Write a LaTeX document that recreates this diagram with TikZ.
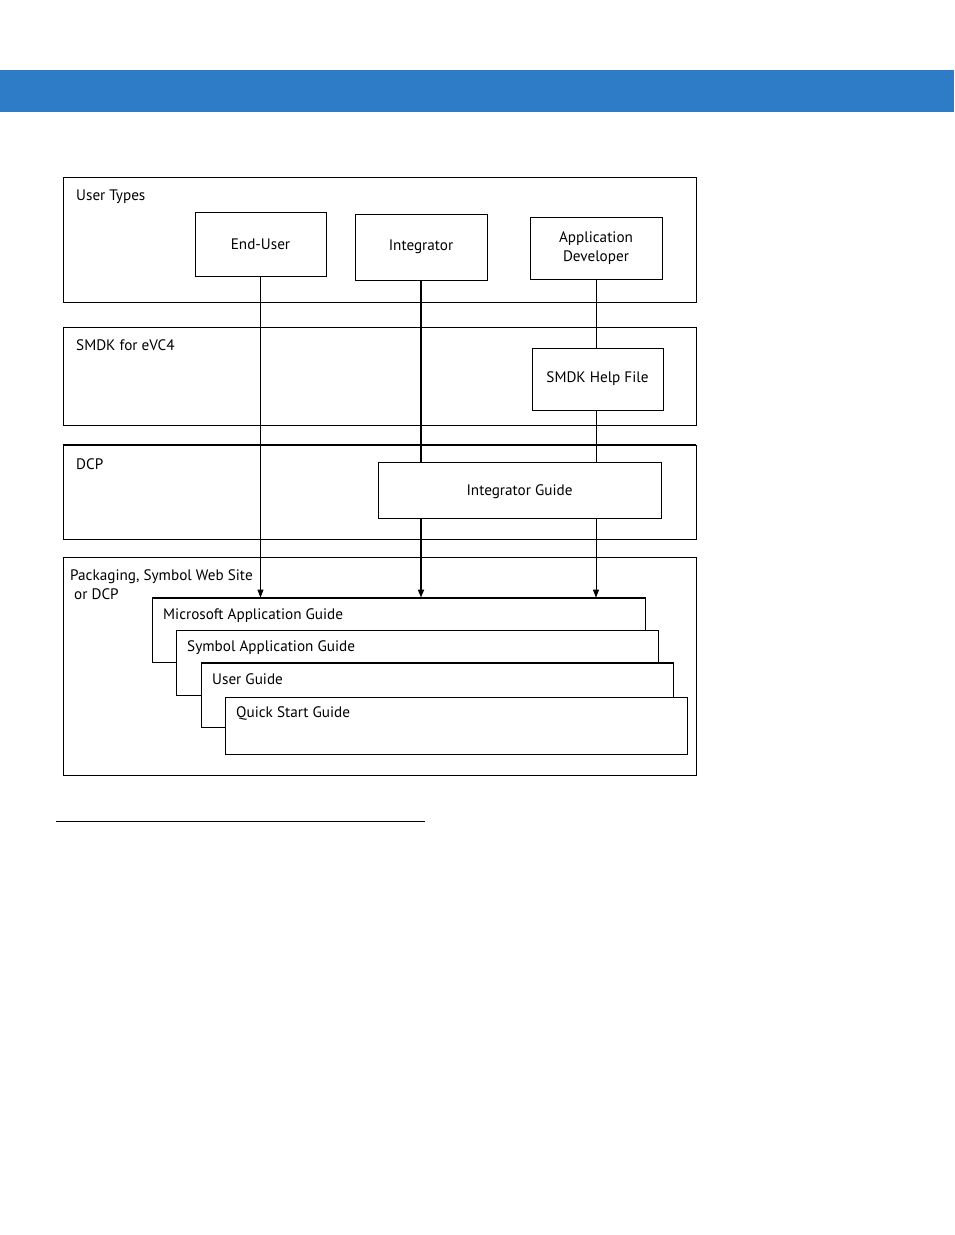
\documentclass[tikz,border=0pt]{standalone}
\usepackage{fontspec}
\setmainfont{PT Sans}
\usetikzlibrary{arrows.meta}
\definecolor{bandblue}{RGB}{46,123,199}

\begin{document}
\begin{tikzpicture}[x=1pt, y=-1pt, every node/.style={font=\fontsize{15.2}{19}\selectfont, inner sep=0pt}, >={Triangle[length=8pt, width=6pt]},
	sect/.style={draw, line width=0.8pt, minimum width=633pt},
	ubox/.style={draw, line width=0.8pt, fill=white, align=center, minimum width=131pt},
	guide/.style={draw, line width=0.8pt, fill=white},
	heavy/.style={line width=1.7pt},
	lbl/.style={anchor=base west}]
	\useasboundingbox (0,0) rectangle (954,1235);
	\fill[bandblue] (0,70) rectangle (954,112);
	% sections
	\node[sect, minimum height=125pt] (types) at (379.5,239.5) {};
	\node[sect, minimum height=98pt] (smdk) at (379.5,376) {};
	\node[sect, minimum height=94pt] (dcp) at (379.5,492) {};
	\node[sect, minimum height=218pt] (pack) at (379.5,666) {};
	\draw[heavy] (smdk.south west) -- (smdk.south east);
	\draw[heavy] (dcp.north west) -- (dcp.north east);
	\draw[heavy] (dcp.south west) -- (dcp.south east);
	\node[lbl] (typeslbl) at (76,200) {User Types};
	\node[lbl] (smdklbl) at (76,350) {SMDK for eVC4};
	\node[lbl] (dcplbl) at (76,469) {DCP};
	\node[lbl] (packlbl) at (70,580) {Packaging, Symbol Web Site};
	\node[lbl] (packlblb) at (74,599) {or DCP};
	% user types and documents
	\node[ubox, minimum height=64pt] (enduser) at (260.5,244) {End-User};
	\node[ubox, minimum width=132pt, minimum height=66pt] (integrator) at (421,247) {Integrator};
	\draw[heavy] (integrator.north east) -- (integrator.south east) -- (integrator.south west);
	\node[ubox, minimum width=132pt, minimum height=62pt] (appdev) at (596,248) {Application\\Developer};
	\node[ubox, minimum height=62pt] (helpfile) at (597.5,379) {SMDK Help File};
	\node[ubox, minimum width=283pt, minimum height=56pt, text depth=-1pt] (intguide) at (519.5,490) {Integrator Guide};
	% guide stack
	\node[guide, minimum width=493pt, minimum height=64pt] (msguide) at (398.5,630) {};
	\draw[heavy] (msguide.north west) -- (msguide.north east) -- ++(0,32);
	\node[guide, minimum width=482pt, minimum height=65pt] (symguide) at (417,662.5) {};
	\node[guide, minimum width=472pt, minimum height=64pt] (userguide) at (437,695) {};
	\draw[heavy] (userguide.north west) -- (userguide.north east) -- ++(0,34);
	\node[guide, minimum width=462pt, minimum height=57pt] (qsguide) at (456,725.5) {};
	\node[lbl] (mslbl) at (163,619) {Microsoft Application Guide};
	\node[lbl] (symlbl) at (187,651) {Symbol Application Guide};
	\node[lbl] (uglbl) at (212,684) {User Guide};
	\node[lbl] (qslbl) at (236,717) {Quick Start Guide};
	% connectors
	\draw[line width=0.8pt, ->] (enduser.south) -- (enduser.south |- msguide.north);
	\draw[heavy] (integrator.south) -- (integrator.south |- intguide.north);
	\draw[heavy, ->] (integrator.south |- intguide.south) -- (integrator.south |- msguide.north);
	\draw[line width=0.8pt] (appdev.south) -- (appdev.south |- helpfile.north);
	\draw[line width=0.8pt] (appdev.south |- helpfile.south) -- (appdev.south |- intguide.north);
	\draw[line width=0.8pt, ->] (appdev.south |- intguide.south) -- (appdev.south |- msguide.north);
	\coordinate (rulel) at (56,821);
	\coordinate (ruler) at (425,821);
	\draw[line width=1pt] (rulel) -- (ruler);
\end{tikzpicture}
\end{document}
